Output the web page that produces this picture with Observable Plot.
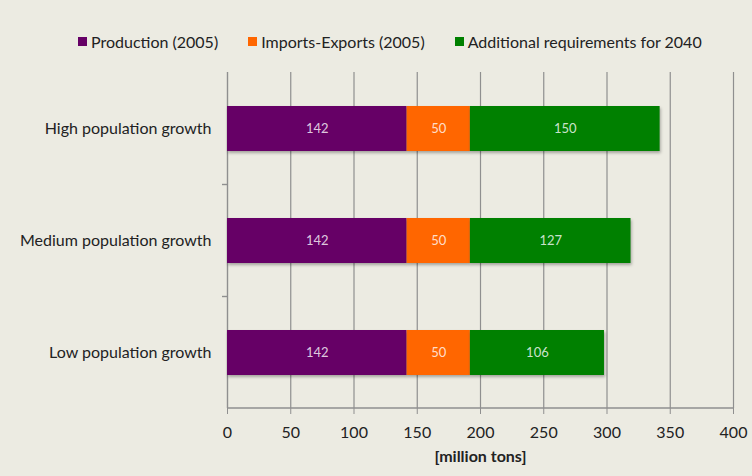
<!DOCTYPE html>
<html><head><meta charset="utf-8">
<script src="https://cdn.jsdelivr.net/npm/d3@7"></script>
<script src="https://cdn.jsdelivr.net/npm/@observablehq/plot@0.6"></script>
<style>
body{margin:0;background:#ecebe2;font-family:Lato,"Open Sans",sans-serif;}
#legend{height:60px;display:flex;align-items:center;padding-left:78px;font-size:16px;color:#222;box-sizing:border-box;padding-top:22px;}
#legend span.item{display:inline-flex;align-items:center;margin-right:30px;}
#legend span.sw{width:9px;height:9px;display:inline-block;margin-right:4px;}
.bars rect{filter:drop-shadow(1px 2px 1.5px rgba(0,0,0,0.3));}
</style></head>
<body>
<div id="legend"></div>
<div id="chart"></div>
<script>
const categories = ["High population growth","Medium population growth","Low population growth"];
const seriesNames = ["Production (2005)","Imports-Exports (2005)","Additional requirements for 2040"];
const production = [142,142,142];
const importsExports = [50,50,50];
const additional = [150,127,106];
const xTicks = [0,50,100,150,200,250,300,350,400];
const colors = ["#660066","#ff6600","#008000"];

const data = [];
categories.forEach((c,i)=>{
  data.push({cat:c, series:seriesNames[0], value:production[i]});
  data.push({cat:c, series:seriesNames[1], value:importsExports[i]});
  data.push({cat:c, series:seriesNames[2], value:additional[i]});
});

const leg = document.getElementById("legend");
seriesNames.forEach((s,i)=>{
  const it=document.createElement("span");it.className="item";
  const sw=document.createElement("span");sw.className="sw";sw.style.background=colors[i];
  it.appendChild(sw);it.appendChild(document.createTextNode(s));leg.appendChild(it);
});

const gridColor="#8f8f8f";
const chart = Plot.plot({
  width:752, height:416,
  marginLeft:227, marginRight:19, marginTop:12, marginBottom:68,
  style:{background:"#ecebe2", fontFamily:"Lato, 'Open Sans', sans-serif", fontSize:"15px", color:"#222"},
  x:{domain:[0,400], ticks:xTicks, label:null},
  y:{domain:categories, paddingInner:0.6, paddingOuter:0.3, label:null},
  color:{domain:seriesNames, range:colors},
  marks:[
    Plot.ruleX(xTicks.slice(1), {stroke:gridColor, strokeWidth:1.2}),
    Plot.ruleX([0], {stroke:gridColor, strokeWidth:1.4}),
    Plot.barX(data, Plot.stackX({x:"value", y:"cat", fill:"series", order:seriesNames, className:"bars"})),
    Plot.text(data, Plot.stackX({x:"value", y:"cat", text:"value", z:"series", order:seriesNames, fill:"white", fillOpacity:0.8, fontSize:13})),
    Plot.axisX({ticks:xTicks, tickSize:6, tickPadding:12, stroke:gridColor, fontSize:16, label:null}),
    Plot.axisY({tickSize:0, tickPadding:16, fontSize:16, label:null}),
    (index, scales, values, dims) => {
      const g = d3.create("svg:g").attr("stroke", gridColor).attr("stroke-width",1.4);
      const x0 = scales.x(0), x1 = scales.x(400);
      const yb = dims.height - dims.marginBottom;
      g.append("line").attr("x1",x0).attr("x2",x1).attr("y1",yb).attr("y2",yb);
      const step = scales.y.step();
      categories.slice(1).forEach(c=>{
        const yc = scales.y(c) + scales.y.bandwidth()/2 - step/2;
        g.append("line").attr("x1",x0-5).attr("x2",x0).attr("y1",yc).attr("y2",yc);
      });
      return g.node();
    },
    Plot.text(["[million tons]"], {frameAnchor:"bottom", dy:53, text:d=>d, fontWeight:"bold", fontSize:16, fill:"#222"})
  ]
});
document.getElementById("chart").appendChild(chart);
</script>
</body></html>
